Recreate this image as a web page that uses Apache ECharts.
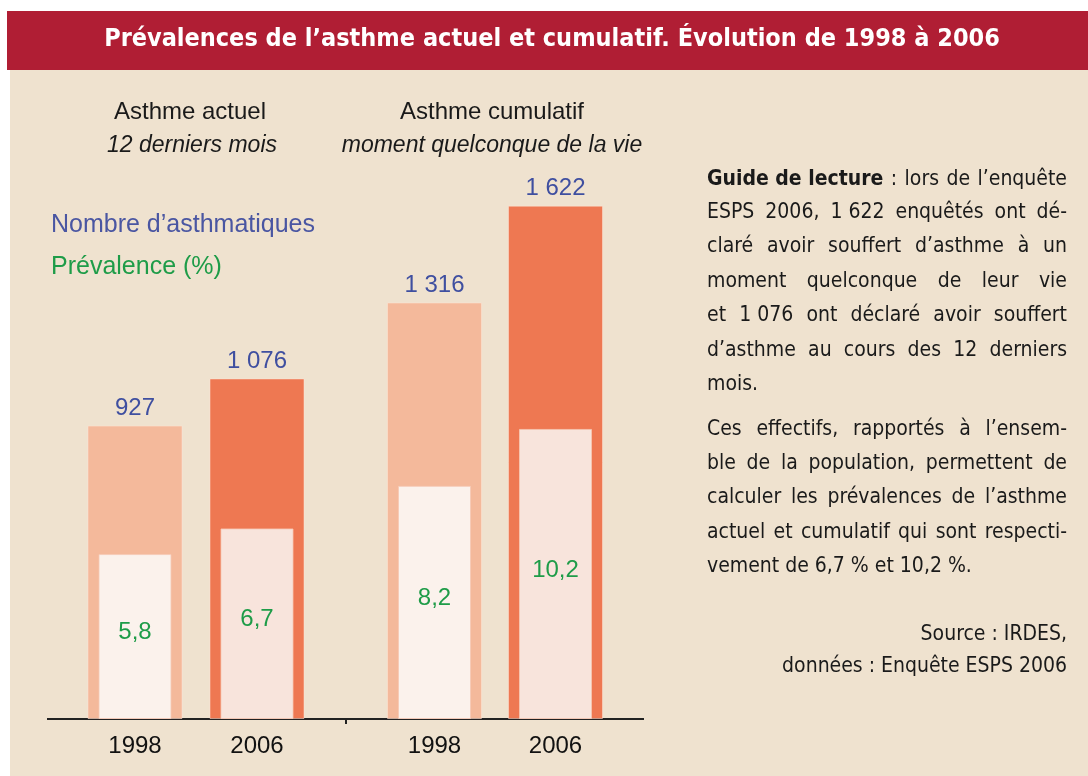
<!DOCTYPE html>
<html>
<head>
<meta charset="utf-8">
<script src="https://cdn.jsdelivr.net/npm/echarts@6/dist/echarts.min.js"></script>
<style>
  html, body { margin: 0; padding: 0; background: #fff; }
  #chart { width: 1088px; height: 776px; }
</style>
</head>
<body>
<div id="chart"></div>
<script>
// données
const years = ['1998', '2006'];
const nbActuel = [927, 1076];          // nombre d'asthmatiques, 12 derniers mois
const prevActuel = [5.8, 6.7];          // prévalence (%)
const nbCumulatif = [1316, 1622];       // nombre d'asthmatiques, vie entière
const prevCumulatif = [8.2, 10.2];      // prévalence (%)

const titre = 'Prévalences de l’asthme actuel et cumulatif. Évolution de 1998 à 2006';
const guideLignes = [
  'ESPS 2006, 1\u00a0622 enquêtés ont dé-',
  'claré avoir souffert d’asthme à un',
  'moment quelconque de leur vie',
  'et 1\u00a0076 ont déclaré avoir souffert',
  'd’asthme au cours des 12 derniers'
];
const para2Lignes = [
  'Ces effectifs, rapportés à l’ensem-',
  'ble de la population, permettent de',
  'calculer les prévalences de l’asthme',
  'actuel et cumulatif qui sont respecti-'
];

const BG = '#EFE2CF';
const ROUGE = '#B01E34';
const CLAIR = '#F4B99B';
const FONCE = '#EE7852';
const IN_CLAIR = '#FBF2EC';
const IN_FONCE = '#F8E4DC';
const BLEU = '#3F4FA0';
const VERT = '#1E9C48';

const NARROW = '"Liberation Sans Narrow", "DejaVu Sans Condensed", sans-serif';
const SANS = '"Liberation Sans", Arial, sans-serif';

const milliers = v => String(v).replace(/\B(?=(\d{3})+(?!\d))/g, ' ');
const virgule = v => String(v).replace('.', ',');

// texte justifié à droite
const TXT_L = 707, TXT_R = 1067, TXT_SIZE = 21;
const ctx = document.createElement('canvas').getContext('2d');
const fontOf = b => (b ? 'bold ' : '') + TXT_SIZE + 'px ' + NARROW;
const mesure = (t, b) => { ctx.font = fontOf(b); return ctx.measureText(t).width; };

function ligne(tokens, y, justifie) {
  const w = tokens.map(k => mesure(k.t, k.b));
  const total = w.reduce((a, b) => a + b, 0);
  const gap = justifie && tokens.length > 1 ? (TXT_R - TXT_L - total) / (tokens.length - 1) : mesure(' ');
  let x = TXT_L;
  return tokens.map((k, i) => {
    const el = {
      type: 'text', silent: true,
      style: { text: k.t, x: x, y: y, font: fontOf(k.b), fill: '#1a1a1a', textVerticalAlign: 'middle' }
    };
    x += w[i] + gap;
    return el;
  });
}
const mots = s => s.split(' ').map(t => ({ t: t }));

let texte = [];
texte = texte.concat(ligne([{ t: 'Guide de lecture', b: true }].concat(mots(': lors de l’enquête')), 180, true));
const yGuide = [213, 247, 282, 316, 351];
guideLignes.forEach((s, i) => { texte = texte.concat(ligne(mots(s), yGuide[i], true)); });
texte = texte.concat(ligne(mots('mois.'), 385, false));
const yPara2 = [430, 464, 498, 533];
para2Lignes.forEach((s, i) => { texte = texte.concat(ligne(mots(s), yPara2[i], true)); });
texte = texte.concat(ligne(mots('vement de 6,7\u00a0% et 10,2\u00a0%.'), 567, false));

const chart = echarts.init(document.getElementById('chart'));

const xCat = (grid, show) => ({
  type: 'category', gridIndex: grid, data: years, show: show,
  axisLine: { show: false }, axisTick: { show: false },
  axisLabel: { show: show, color: '#111', fontSize: 24, fontFamily: SANS, margin: 15 }
});
const yVal = (grid, max) => ({ type: 'value', gridIndex: grid, min: 0, max: max, show: false, splitLine: { show: false } });

const barNb = (xi, yi, data) => ({
  type: 'bar', xAxisIndex: xi, yAxisIndex: yi, data: data, barWidth: 95,
  itemStyle: { color: p => (p.dataIndex === 0 ? CLAIR : FONCE), borderColor: 'rgba(255,230,215,0.5)', borderWidth: 1 },
  label: { show: true, position: 'top', distance: 5, color: BLEU, fontSize: 24, fontFamily: SANS, formatter: p => milliers(p.value) },
  emphasis: { disabled: true }
});
const barPrev = (xi, yi, data) => ({
  type: 'bar', xAxisIndex: xi, yAxisIndex: yi, data: data, barWidth: 73,
  itemStyle: { color: p => (p.dataIndex === 0 ? IN_CLAIR : IN_FONCE), borderColor: 'rgba(246,200,180,0.8)', borderWidth: 1 },
  label: { show: true, position: 'inside', offset: [0, -4], color: VERT, fontSize: 24, fontFamily: SANS, formatter: p => virgule(p.value) },
  emphasis: { disabled: true }
});

const option = {
  animation: false,
  grid: [
    { left: 74, width: 244, top: 86, bottom: 57 },
    { left: 374, width: 242, top: 86, bottom: 57 }
  ],
  xAxis: [xCat(0, true), xCat(0, false), xCat(1, true), xCat(1, false)],
  yAxis: [yVal(0, 2000), yVal(0, 22.26), yVal(1, 2000), yVal(1, 22.26)],
  series: [
    barNb(0, 0, nbActuel),
    barPrev(1, 1, prevActuel),
    barNb(2, 2, nbCumulatif),
    barPrev(3, 3, prevCumulatif)
  ],
  graphic: [
    { type: 'rect', z: -10, silent: true, shape: { x: 10, y: 70, width: 1078, height: 706 }, style: { fill: BG } },
    { type: 'rect', z: -9, silent: true, shape: { x: 7, y: 11, width: 1081, height: 59 }, style: { fill: ROUGE } },
    { type: 'text', silent: true, style: { text: titre, x: 552, y: 39, fill: '#fff', font: 'bold 25px ' + NARROW, textAlign: 'center', textVerticalAlign: 'middle' } },
    // en-têtes des groupes
    { type: 'text', silent: true, style: { text: 'Asthme actuel', x: 190, y: 112, fill: '#1a1a1a', font: '24px ' + SANS, textAlign: 'center', textVerticalAlign: 'middle' } },
    { type: 'text', silent: true, style: { text: '12 derniers mois', x: 192, y: 146, fill: '#1a1a1a', font: 'italic 23px ' + SANS, textAlign: 'center', textVerticalAlign: 'middle' } },
    { type: 'text', silent: true, style: { text: 'Asthme cumulatif', x: 492, y: 112, fill: '#1a1a1a', font: '24px ' + SANS, textAlign: 'center', textVerticalAlign: 'middle' } },
    { type: 'text', silent: true, style: { text: 'moment quelconque de la vie', x: 492, y: 146, fill: '#1a1a1a', font: 'italic 23px ' + SANS, textAlign: 'center', textVerticalAlign: 'middle' } },
    // légende
    { type: 'text', silent: true, style: { text: 'Nombre d’asthmatiques', x: 51, y: 225, fill: '#4A56A2', font: '25px ' + SANS, textVerticalAlign: 'middle' } },
    { type: 'text', silent: true, style: { text: 'Prévalence (%)', x: 51, y: 267, fill: VERT, font: '25px ' + SANS, textVerticalAlign: 'middle' } },
    // axe horizontal commun
    { type: 'line', silent: true, shape: { x1: 47, y1: 719, x2: 644, y2: 719 }, style: { stroke: '#222', lineWidth: 2 } },
    { type: 'line', silent: true, shape: { x1: 346, y1: 719, x2: 346, y2: 724 }, style: { stroke: '#222', lineWidth: 2 } },
    // source
    { type: 'text', silent: true, style: { text: 'Source : IRDES,', x: 1067, y: 635, fill: '#1a1a1a', font: TXT_SIZE + 'px ' + NARROW, textAlign: 'right', textVerticalAlign: 'middle' } },
    { type: 'text', silent: true, style: { text: 'données : Enquête ESPS 2006', x: 1067, y: 667, fill: '#1a1a1a', font: TXT_SIZE + 'px ' + NARROW, textAlign: 'right', textVerticalAlign: 'middle' } }
  ].concat(texte)
};

chart.setOption(option);
</script>
</body>
</html>
